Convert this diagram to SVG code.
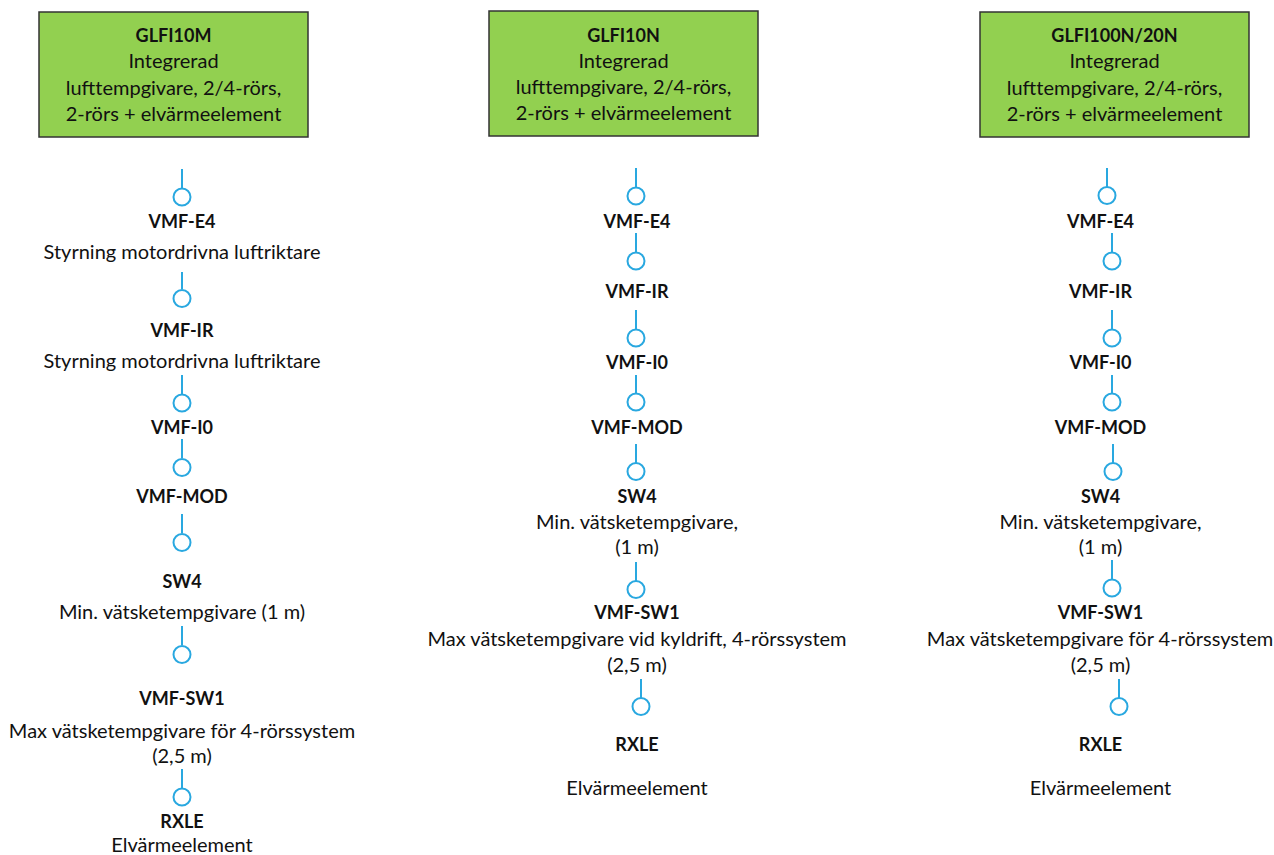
<svg xmlns="http://www.w3.org/2000/svg" width="1274" height="855" viewBox="0 0 1274 855">
<style>
  text { font-family: Lato, "Open Sans", "Liberation Sans", sans-serif; font-size: 20px; fill: #111; text-anchor: middle; }
  .b { font-weight: bold; font-size: 18px; }
  .box { fill: #92d050; stroke: #333; stroke-width: 1.5; }
  .stem { stroke: #29a8e0; stroke-width: 2; fill: none; }
  .ring { stroke: #29a8e0; stroke-width: 2; fill: #fff; }
</style>
<rect width="1274" height="855" fill="#fff"/>
<g id="connectors">
  <!-- column 1 -->
  <line class="stem" x1="182" y1="169" x2="182" y2="188"/><circle class="ring" cx="182" cy="197" r="8.5"/>
  <line class="stem" x1="182" y1="272" x2="182" y2="289"/><circle class="ring" cx="182" cy="298.5" r="8.5"/>
  <line class="stem" x1="182" y1="375" x2="182" y2="394"/><circle class="ring" cx="182" cy="403" r="8.5"/>
  <line class="stem" x1="182" y1="439" x2="182" y2="458"/><circle class="ring" cx="182" cy="467.5" r="8.5"/>
  <line class="stem" x1="182" y1="514" x2="182" y2="533"/><circle class="ring" cx="182" cy="542.5" r="8.5"/>
  <line class="stem" x1="182" y1="626" x2="182" y2="645"/><circle class="ring" cx="182" cy="654.5" r="8.5"/>
  <line class="stem" x1="182" y1="769" x2="182" y2="788"/><circle class="ring" cx="182" cy="797" r="8.5"/>
  <!-- column 2 -->
  <line class="stem" x1="636" y1="168" x2="636" y2="187"/><circle class="ring" cx="636" cy="196" r="8.5"/>
  <line class="stem" x1="636" y1="233" x2="636" y2="252"/><circle class="ring" cx="636" cy="261" r="8.5"/>
  <line class="stem" x1="636" y1="310" x2="636" y2="329"/><circle class="ring" cx="636" cy="338" r="8.5"/>
  <line class="stem" x1="636" y1="375" x2="636" y2="393"/><circle class="ring" cx="636" cy="402" r="8.5"/>
  <line class="stem" x1="636" y1="444" x2="636" y2="463"/><circle class="ring" cx="636" cy="471.5" r="8.5"/>
  <line class="stem" x1="636" y1="562" x2="636" y2="581"/><circle class="ring" cx="636" cy="589.5" r="8.5"/>
  <line class="stem" x1="641" y1="679" x2="641" y2="698"/><circle class="ring" cx="641" cy="706.5" r="8.5"/>
  <!-- column 3 -->
  <line class="stem" x1="1107" y1="168" x2="1107" y2="187"/><circle class="ring" cx="1107" cy="195.5" r="8.5"/>
  <line class="stem" x1="1112" y1="233" x2="1112" y2="252"/><circle class="ring" cx="1112" cy="261" r="8.5"/>
  <line class="stem" x1="1112" y1="310" x2="1112" y2="329"/><circle class="ring" cx="1112" cy="338" r="8.5"/>
  <line class="stem" x1="1112" y1="375" x2="1112" y2="393"/><circle class="ring" cx="1112" cy="402" r="8.5"/>
  <line class="stem" x1="1113" y1="444" x2="1113" y2="463"/><circle class="ring" cx="1113" cy="471.5" r="8.5"/>
  <line class="stem" x1="1112" y1="560" x2="1112" y2="579"/><circle class="ring" cx="1112" cy="588" r="8.5"/>
  <line class="stem" x1="1119" y1="679" x2="1119" y2="698"/><circle class="ring" cx="1119" cy="706.5" r="8.5"/>
</g>
<g id="box-glfi10m">
  <rect class="box" x="39" y="12" width="269" height="125"/>
  <text x="173.5" y="42" class="b">GLFI10M</text>
  <text x="173.5" y="68">Integrerad</text>
  <text x="173.5" y="95">lufttempgivare, 2/4-rörs,</text>
  <text x="173.5" y="121">2-rörs + elvärmeelement</text>
</g>
<g id="box-glfi10n">
  <rect class="box" x="489" y="11" width="269" height="125"/>
  <text x="623.5" y="42" class="b">GLFI10N</text>
  <text x="623.5" y="68">Integrerad</text>
  <text x="623.5" y="94">lufttempgivare, 2/4-rörs,</text>
  <text x="623.5" y="120">2-rörs + elvärmeelement</text>
</g>
<g id="box-glfi100n">
  <rect class="box" x="980" y="12" width="269" height="125"/>
  <text x="1114.5" y="42" class="b">GLFI100N/20N</text>
  <text x="1114.5" y="68">Integrerad</text>
  <text x="1114.5" y="95">lufttempgivare, 2/4-rörs,</text>
  <text x="1114.5" y="121">2-rörs + elvärmeelement</text>
</g>
<!-- column 1 labels -->
<g id="c1-e4"><text x="182" y="228" class="b">VMF-E4</text><text x="182" y="259">Styrning motordrivna luftriktare</text></g>
<g id="c1-ir"><text x="182" y="337" class="b">VMF-IR</text><text x="182" y="368">Styrning motordrivna luftriktare</text></g>
<g id="c1-i0"><text x="182" y="434" class="b">VMF-I0</text></g>
<g id="c1-mod"><text x="182" y="503" class="b">VMF-MOD</text></g>
<g id="c1-sw4"><text x="182" y="588" class="b">SW4</text><text x="182" y="619">Min. vätsketempgivare (1 m)</text></g>
<g id="c1-sw1"><text x="182" y="705" class="b">VMF-SW1</text><text x="182" y="738">Max vätsketempgivare för 4-rörssystem</text><text x="182" y="763">(2,5 m)</text></g>
<g id="c1-rxle"><text x="182" y="828" class="b">RXLE</text><text x="182" y="852">Elvärmeelement</text></g>
<!-- column 2 labels -->
<g id="c2-e4"><text x="637" y="228" class="b">VMF-E4</text></g>
<g id="c2-ir"><text x="637" y="298" class="b">VMF-IR</text></g>
<g id="c2-i0"><text x="637" y="369" class="b">VMF-I0</text></g>
<g id="c2-mod"><text x="637" y="434" class="b">VMF-MOD</text></g>
<g id="c2-sw4"><text x="637" y="503" class="b">SW4</text><text x="637" y="529">Min. vätsketempgivare,</text><text x="637" y="554">(1 m)</text></g>
<g id="c2-sw1"><text x="637" y="619" class="b">VMF-SW1</text><text x="637" y="646">Max vätsketempgivare vid kyldrift, 4-rörssystem</text><text x="637" y="672">(2,5 m)</text></g>
<g id="c2-rxle"><text x="637" y="751" class="b">RXLE</text><text x="637" y="795">Elvärmeelement</text></g>
<!-- column 3 labels -->
<g id="c3-e4"><text x="1100.5" y="228" class="b">VMF-E4</text></g>
<g id="c3-ir"><text x="1100.5" y="298" class="b">VMF-IR</text></g>
<g id="c3-i0"><text x="1100.5" y="369" class="b">VMF-I0</text></g>
<g id="c3-mod"><text x="1100.5" y="434" class="b">VMF-MOD</text></g>
<g id="c3-sw4"><text x="1100.5" y="503" class="b">SW4</text><text x="1100.5" y="529">Min. vätsketempgivare,</text><text x="1100.5" y="554">(1 m)</text></g>
<g id="c3-sw1"><text x="1100.5" y="619" class="b">VMF-SW1</text><text x="1100" y="646">Max vätsketempgivare för 4-rörssystem</text><text x="1100.5" y="672">(2,5 m)</text></g>
<g id="c3-rxle"><text x="1100.5" y="751" class="b">RXLE</text><text x="1100.5" y="795">Elvärmeelement</text></g>
</svg>
